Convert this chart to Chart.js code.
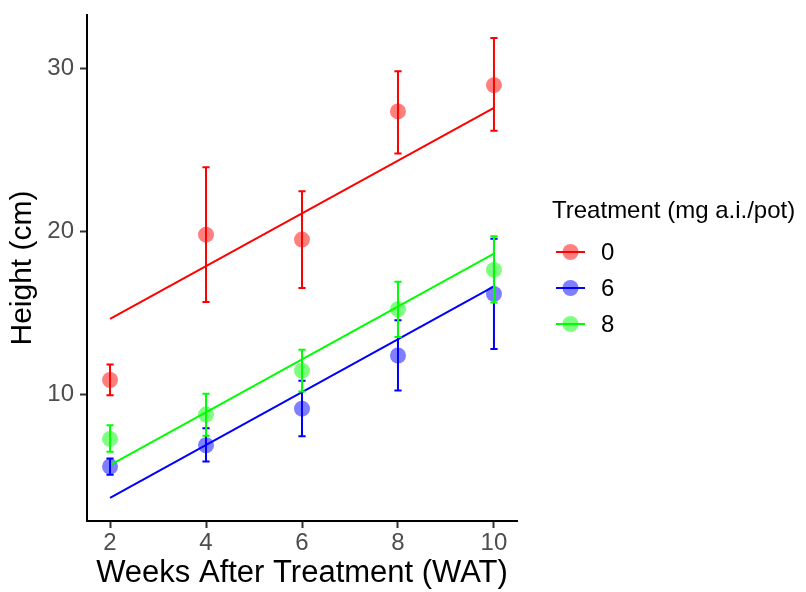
<!DOCTYPE html>
<html><head><meta charset="utf-8">
<script src="https://cdn.jsdelivr.net/npm/chart.js@4.4.1/dist/chart.umd.min.js"></script>
<style>html,body{margin:0;padding:0;background:#fff}#wrap{width:806px;height:592px;position:relative}</style>
</head><body><div id="wrap"><canvas id="c" width="806" height="592"></canvas></div>
<script>
const weeks = [2, 4, 6, 8, 10];
const treatments = ['0', '6', '8'];
const legendTitle = 'Treatment (mg a.i./pot)';
const xTitle = 'Weeks After Treatment (WAT)';
const yTitle = 'Height (cm)';
const height0 = [10.9, 19.8, 19.5, 27.35, 28.96];
const height6 = [5.6, 6.9, 9.14, 12.4, 16.17];
const height8 = [7.29, 8.78, 11.47, 15.24, 17.64];
const lower0 = [9.96, 15.68, 16.54, 24.78, 26.17];
const upper0 = [11.85, 23.93, 22.46, 29.82, 31.85];
const lower6 = [5.09, 5.91, 7.45, 10.26, 12.79];
const upper6 = [6.09, 7.94, 10.86, 14.56, 19.55];
const lower8 = [6.5, 7.48, 10.2, 13.54, 15.64];
const upper8 = [8.12, 10.06, 12.75, 16.92, 19.71];
const fitX = [2, 10];
const fit0 = [14.64, 27.57];
const fit6 = [3.67, 16.64];
const fit8 = [5.68, 18.64];
const xTicks = [2, 4, 6, 8, 10];
const yTicks = [10, 20, 30];

const colors = ['#FF0000', '#0000FF', '#00FF00'];
const fills = ['rgba(255,0,0,0.5)', 'rgba(0,0,255,0.5)', 'rgba(0,255,0,0.5)'];
const heights = [height0, height6, height8];
const lowers = [lower0, lower6, lower8];
const uppers = [upper0, upper6, upper8];
const fits = [fit0, fit6, fit8];
const FONT = "'Liberation Sans', Arial, Helvetica, sans-serif";

const datasets = [];
treatments.forEach((t, i) => {
  datasets.push({
    type: 'line', label: t + ' fit',
    data: fitX.map((x, j) => ({x: x, y: fits[i][j]})),
    borderColor: colors[i], borderWidth: 2, pointRadius: 0, fill: false, order: 1
  });
  datasets.push({
    type: 'scatter', label: t,
    data: weeks.map((w, j) => ({x: w, y: heights[i][j]})),
    backgroundColor: fills[i], borderWidth: 0, pointRadius: 8, pointHoverRadius: 8, order: 2
  });
});

const errorBars = {
  id: 'errorBars',
  afterDatasetsDraw(chart) {
    const ctx = chart.ctx, xs = chart.scales.x, ys = chart.scales.y;
    ctx.save();
    ctx.lineWidth = 2;
    treatments.forEach((t, i) => {
      ctx.strokeStyle = colors[i];
      weeks.forEach((w, j) => {
        const x = xs.getPixelForValue(w);
        const hw = xs.getPixelForValue(w + 0.075) - x;
        const yl = ys.getPixelForValue(lowers[i][j]);
        const yu = ys.getPixelForValue(uppers[i][j]);
        ctx.beginPath();
        ctx.moveTo(x, yl); ctx.lineTo(x, yu);
        ctx.moveTo(x - hw, yl); ctx.lineTo(x + hw, yl);
        ctx.moveTo(x - hw, yu); ctx.lineTo(x + hw, yu);
        ctx.stroke();
      });
    });
    ctx.restore();
  }
};

const legendPlugin = {
  id: 'customLegend',
  afterDraw(chart) {
    const ctx = chart.ctx;
    ctx.save();
    ctx.fillStyle = '#000';
    ctx.font = '24px ' + FONT;
    ctx.textAlign = 'left';
    ctx.textBaseline = 'alphabetic';
    ctx.fillText(legendTitle, 552, 218);
    const ys = [252, 288, 324];
    treatments.forEach((t, i) => {
      const y = ys[i];
      ctx.fillStyle = fills[i];
      ctx.beginPath(); ctx.arc(570.5, y, 8, 0, Math.PI * 2); ctx.fill();
      ctx.strokeStyle = colors[i]; ctx.lineWidth = 2;
      ctx.beginPath(); ctx.moveTo(556, y); ctx.lineTo(585, y); ctx.stroke();
      ctx.fillStyle = '#000';
      ctx.textBaseline = 'middle';
      ctx.fillText(t, 601, y + 1);
    });
    ctx.restore();
  }
};

new Chart(document.getElementById('c'), {
  data: {datasets: datasets},
  options: {
    responsive: false, animation: false,
    layout: {padding: {left: 0, top: 15, right: 289, bottom: 0}},
    plugins: {legend: {display: false}, tooltip: {enabled: false}},
    scales: {
      x: {
        type: 'linear', min: 1.52, max: 10.48,
        afterBuildTicks: s => { s.ticks = xTicks.map(v => ({value: v})); },
        afterFit: s => { s.height = 71; s.paddingLeft = 0; s.paddingRight = 0; },
        grid: {drawOnChartArea: false, tickLength: 7, tickColor: '#333', tickWidth: 2},
        border: {color: '#000', width: 2},
        ticks: {color: '#4D4D4D', font: {size: 24, family: FONT}, padding: 1, maxRotation: 0, autoSkip: false},
        title: {display: true, text: xTitle, color: '#000', font: {size: 31, family: FONT}, padding: {top: 0, bottom: 0}}
      },
      y: {
        type: 'linear', min: 2.26, max: 33.26,
        afterBuildTicks: s => { s.ticks = yTicks.map(v => ({value: v})); },
        afterFit: s => { s.width = 87; s.paddingTop = 0; s.paddingBottom = 0; },
        grid: {drawOnChartArea: false, tickLength: 7, tickColor: '#333', tickWidth: 2},
        border: {color: '#000', width: 2},
        ticks: {color: '#4D4D4D', font: {size: 24, family: FONT}, padding: 6},
        title: {display: true, text: yTitle, color: '#000', font: {size: 30, family: FONT}, padding: {top: 5, bottom: 0}}
      }
    }
  },
  plugins: [errorBars, legendPlugin]
});
</script></body></html>
